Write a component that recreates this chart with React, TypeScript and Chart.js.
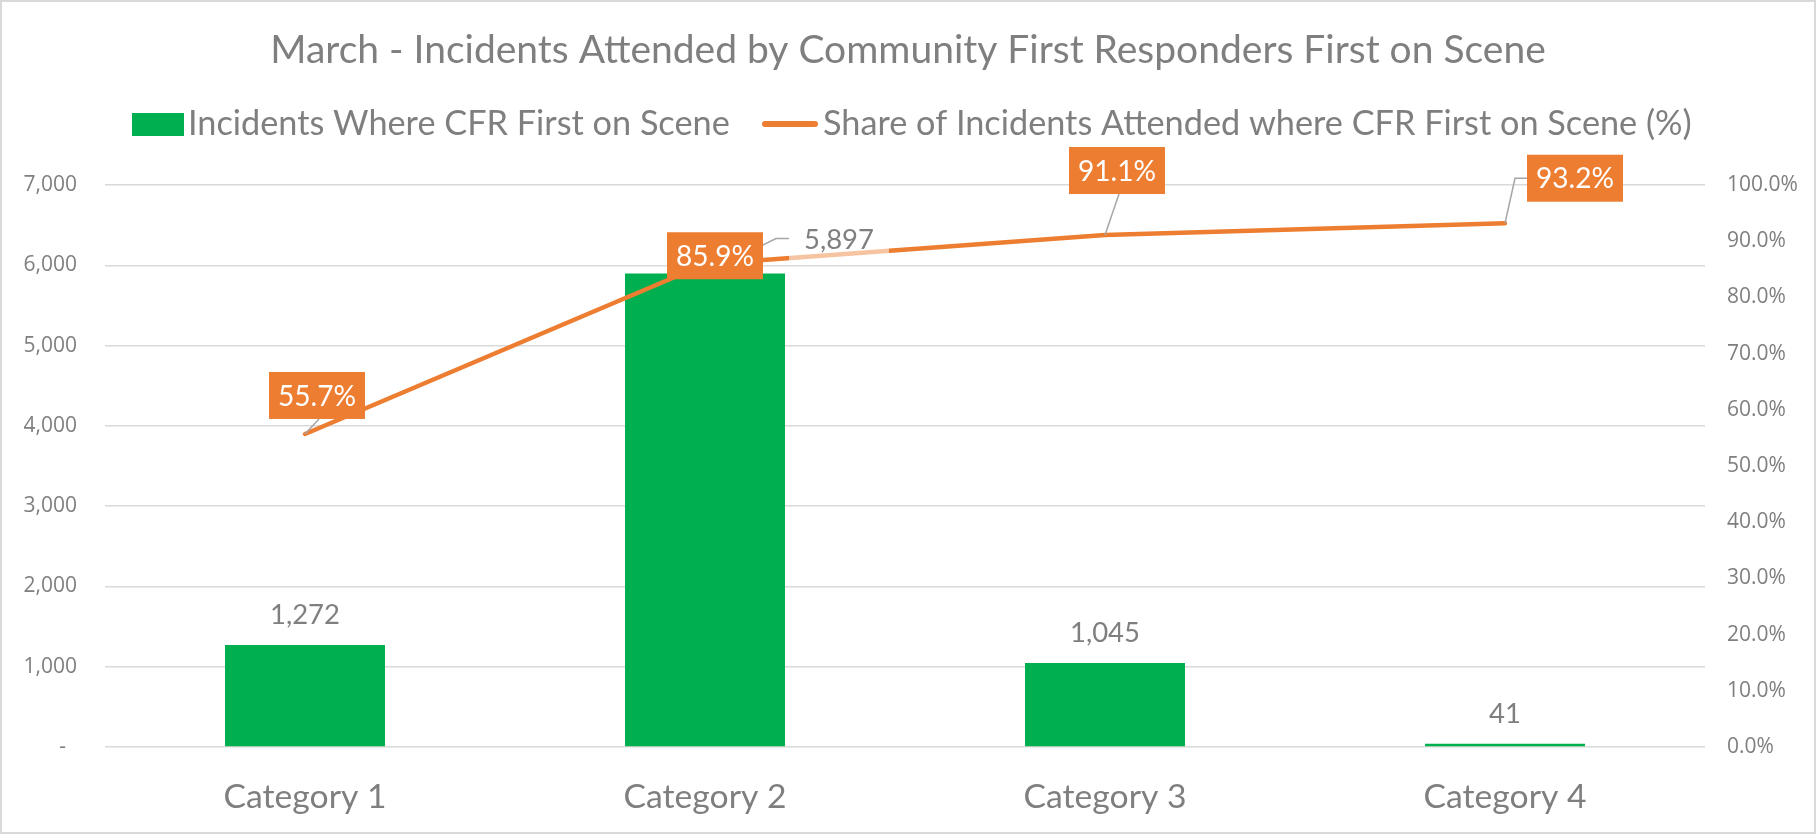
import React, { useEffect, useRef } from "react";
import { Chart, registerables } from "chart.js";

Chart.register(...registerables);

// ---------- data ----------
const categories = ["Category 1", "Category 2", "Category 3", "Category 4"];
const incidents = [1272, 5897, 1045, 41];
const sharePct = [55.7, 85.9, 91.1, 93.2];
const leftTickValues = [0, 1000, 2000, 3000, 4000, 5000, 6000, 7000];
const rightTickValues = [0, 10, 20, 30, 40, 50, 60, 70, 80, 90, 100];

const TITLE = "March - Incidents Attended by Community First Responders First on Scene";
const LEGEND_BAR = "Incidents Where CFR First on Scene";
const LEGEND_LINE = "Share of Incidents Attended where CFR First on Scene (%)";

// ---------- style ----------
const GREEN = "#00b050";
const ORANGE = "#ed7d31";
const GREY = "#7f7f7f";
const GRID = "#d9d9d9";
const LEADER = "#a6a6a6";
const MAIN_FONT = "Lato";
const TICK_FONT = "'Open Sans'";

// label offsets relative to the element drawn by the library (style only)
const barLabelStyle = [
  { dx: 0, dy: -30, leader: false },
  { dx: 134, dy: -33, leader: true },
  { dx: 0, dy: -30, leader: false },
  { dx: 0, dy: -30, leader: false },
];
const lineLabelStyle = [
  { dx: 12, dy: -38.5, leader: "bottom" },
  { dx: 10, dy: -8.5, leader: "none" },
  { dx: 12, dy: -64.5, leader: "bottom" },
  { dx: 70, dy: -45, leader: "left" },
];

function fitSize(text: string, family: string, target: number): number {
  const c = document.createElement("canvas").getContext("2d")!;
  const base = 40;
  c.font = `${base}px ${family}`;
  return (base * target) / c.measureText(text).width;
}

export default function App() {
  const ref = useRef<HTMLCanvasElement>(null);

  useEffect(() => {
    if (!ref.current) return;
    const W = 1816;
    const H = 834;
    const titleSize = fitSize(TITLE, MAIN_FONT, 1276);
    const legendSize = fitSize(LEGEND_LINE, MAIN_FONT, 869);
    const catSize = fitSize("Category 1", MAIN_FONT, 163);
    const barLabelSize = fitSize("1,272", MAIN_FONT, 70);
    const boxLabelSize = fitSize("55.7%", MAIN_FONT, 78);

    const plotTop = 185;
    const titleCenter = 50;
    const titlePadTop = titleCenter - titleSize * 0.6;
    const titlePadBottom = plotTop - titlePadTop - titleSize * 1.2;

    const framePlugin = {
      id: "frame",
      beforeDraw(chart: any) {
        const ctx = chart.ctx;
        ctx.save();
        ctx.fillStyle = "#ffffff";
        ctx.fillRect(0, 0, W, H);
        ctx.strokeStyle = GRID;
        ctx.lineWidth = 2;
        ctx.strokeRect(1, 1, W - 2, H - 2);
        ctx.restore();
      },
      afterDraw(chart: any) {
        // legend
        const ctx = chart.ctx;
        ctx.save();
        const y = 124;
        ctx.fillStyle = GREEN;
        ctx.fillRect(132, 113, 52, 23);
        ctx.font = `${legendSize}px ${MAIN_FONT}`;
        ctx.fillStyle = GREY;
        ctx.textAlign = "left";
        ctx.textBaseline = "middle";
        ctx.fillText(LEGEND_BAR, 188, y);
        ctx.strokeStyle = ORANGE;
        ctx.lineWidth = 6;
        ctx.lineCap = "round";
        ctx.beginPath();
        ctx.moveTo(765, y);
        ctx.lineTo(815, y);
        ctx.stroke();
        ctx.fillText(LEGEND_LINE, 823, y);
        ctx.restore();
      },
    };

    const labelsPlugin = {
      id: "labels",
      afterDatasetsDraw(chart: any) {
        const ctx = chart.ctx;
        ctx.save();
        const barMeta = chart.getDatasetMeta(0);
        const lineMeta = chart.getDatasetMeta(1);

        // bar value labels
        ctx.font = `${barLabelSize}px ${MAIN_FONT}`;
        ctx.textAlign = "center";
        ctx.textBaseline = "middle";
        barMeta.data.forEach((el: any, i: number) => {
          const st = barLabelStyle[i];
          const text = incidents[i].toLocaleString("en-US");
          const x = el.x + st.dx;
          const y = el.y + st.dy;
          const w = ctx.measureText(text).width;
          if (st.leader) {
            const left = x - w / 2 - 15;
            ctx.fillStyle = "rgba(255,255,255,0.55)";
            ctx.fillRect(left, y - 20, w + 30, 41);
            ctx.strokeStyle = LEADER;
            ctx.lineWidth = 1.5;
            ctx.beginPath();
            ctx.moveTo(el.x, el.y);
            ctx.lineTo(left - 13, y - 2);
            ctx.lineTo(left, y - 2);
            ctx.stroke();
          }
          ctx.fillStyle = GREY;
          ctx.fillText(text, x, y);
        });

        // line labels
        ctx.font = `${boxLabelSize}px ${MAIN_FONT}`;
        const boxes = lineMeta.data.map((pt: any, i: number) => {
          const st = lineLabelStyle[i];
          const text = sharePct[i].toFixed(1) + "%";
          const w = ctx.measureText(text).width + 18;
          const h = 47;
          return { pt, st, text, w, h, cx: pt.x + st.dx, cy: pt.y + st.dy };
        });
        ctx.strokeStyle = LEADER;
        ctx.lineWidth = 1.5;
        boxes.forEach((b: any) => {
          if (b.st.leader === "bottom") {
            ctx.beginPath();
            ctx.moveTo(b.pt.x, b.pt.y);
            ctx.lineTo(b.cx + 2, b.cy + b.h / 2);
            ctx.stroke();
          } else if (b.st.leader === "left") {
            const left = b.cx - b.w / 2;
            ctx.beginPath();
            ctx.moveTo(b.pt.x, b.pt.y);
            ctx.lineTo(left - 12, b.cy);
            ctx.lineTo(left, b.cy);
            ctx.stroke();
          }
        });
        boxes.forEach((b: any) => {
          ctx.fillStyle = ORANGE;
          ctx.fillRect(b.cx - b.w / 2, b.cy - b.h / 2, b.w, b.h);
          ctx.fillStyle = "#ffffff";
          ctx.fillText(b.text, b.cx, b.cy + 1);
        });
        ctx.restore();
      },
    };

    const chart = new Chart(ref.current, {
      type: "bar",
      data: {
        labels: categories,
        datasets: [
          {
            type: "bar",
            label: LEGEND_BAR,
            data: incidents,
            backgroundColor: GREEN,
            borderWidth: 0,
            barPercentage: 0.4,
            categoryPercentage: 1.0,
            yAxisID: "y",
            order: 2,
          },
          {
            type: "line",
            label: LEGEND_LINE,
            data: sharePct,
            borderColor: ORANGE,
            backgroundColor: ORANGE,
            borderWidth: 4.5,
            borderCapStyle: "round",
            borderJoinStyle: "round",
            pointRadius: 0,
            tension: 0,
            yAxisID: "y1",
            order: 1,
          },
        ],
      },
      options: {
        responsive: false,
        animation: false,
        devicePixelRatio: 1,
        layout: { padding: 0 },
        plugins: {
          legend: { display: false },
          tooltip: { enabled: false },
          title: {
            display: true,
            text: TITLE,
            color: GREY,
            font: { family: MAIN_FONT, size: titleSize, weight: "normal", lineHeight: 1.2 },
            padding: { top: titlePadTop, bottom: titlePadBottom },
          },
        },
        scales: {
          x: {
            grid: { display: false, drawTicks: false },
            border: { display: false },
            ticks: {
              color: GREY,
              font: { family: MAIN_FONT, size: catSize },
              padding: 30,
              maxRotation: 0,
              autoSkip: false,
            },
            afterFit(s: any) {
              s.height = 87;
            },
          },
          y: {
            position: "left",
            min: 0,
            max: 7000,
            afterBuildTicks(s: any) {
              s.ticks = leftTickValues.map((v) => ({ value: v }));
            },
            ticks: {
              color: GREY,
              font: { family: TICK_FONT, size: 21 },
              padding: 28,
              callback: (v: any) => (Number(v) === 0 ? "-  " : Number(v).toLocaleString("en-US")),
            },
            grid: { color: GRID, lineWidth: 1.5, drawTicks: false },
            border: { display: false },
            afterFit(s: any) {
              s.width = 105;
            },
          },
          y1: {
            position: "right",
            min: 0,
            max: 100,
            afterBuildTicks(s: any) {
              s.ticks = rightTickValues.map((v) => ({ value: v }));
            },
            ticks: {
              color: GREY,
              font: { family: TICK_FONT, size: 21 },
              padding: 22,
              callback: (v: any) => Number(v).toFixed(1) + "%",
            },
            grid: { display: false, drawTicks: false },
            border: { display: false },
            afterFit(s: any) {
              s.width = 111;
            },
          },
        },
      },
      plugins: [framePlugin, labelsPlugin],
    } as any);

    return () => chart.destroy();
  }, []);

  return (
    <div style={{ position: "absolute", left: 0, top: 0, width: 1816, height: 834 }}>
      <canvas ref={ref} width={1816} height={834} style={{ display: "block", width: 1816, height: 834 }} />
    </div>
  );
}
